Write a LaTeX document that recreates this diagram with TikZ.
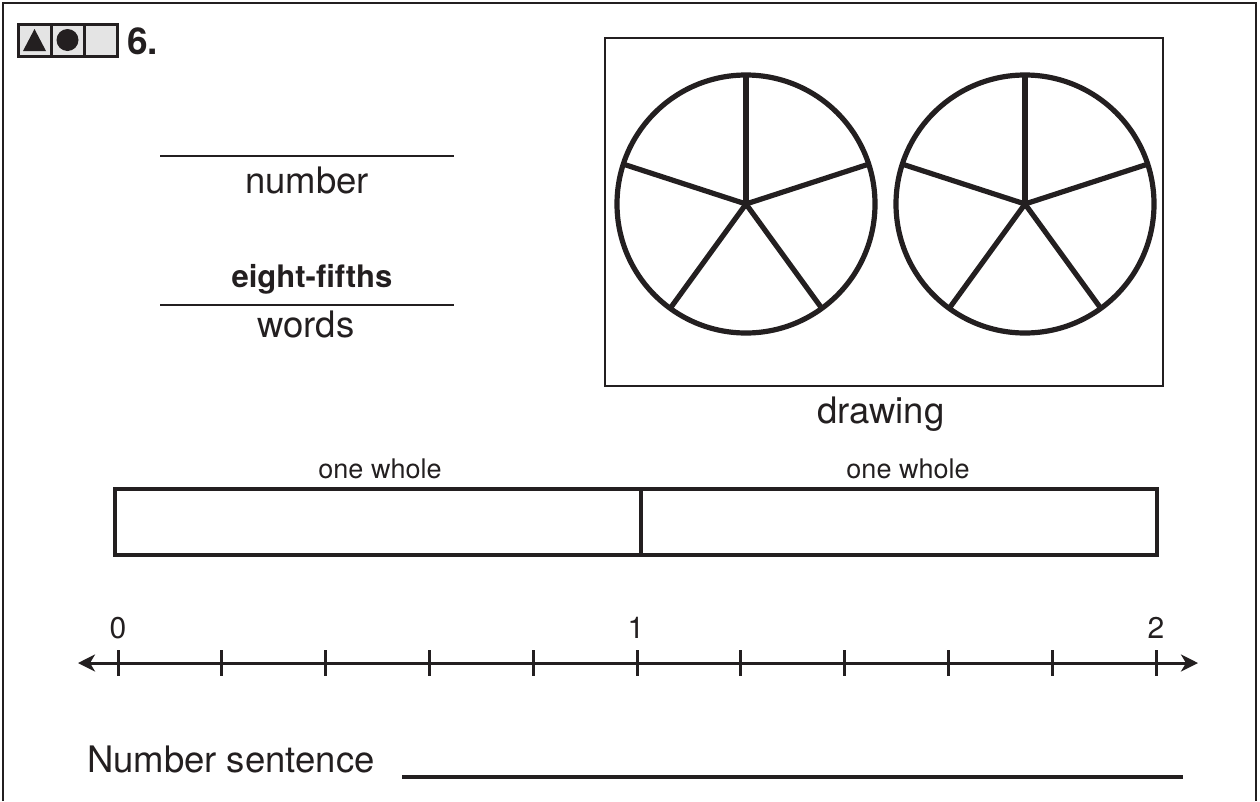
\documentclass[tikz,border=0pt]{standalone}
\usepackage{fontspec}
\setmainfont{TeX Gyre Heros}
\usetikzlibrary{arrows.meta}
\definecolor{ink}{RGB}{35,31,32}
\definecolor{cellgray}{RGB}{228,228,228}
\newcommand{\fs}[1]{\fontsize{#1}{#1}\selectfont}
\begin{document}
\begin{tikzpicture}[x=1pt,y=-1pt,
  every node/.style={inner sep=0pt,outer sep=0pt,text=ink},
  label/.style={anchor=base,font=\fs{36.5}},
  small/.style={anchor=base,font=\fs{27}},
  thinline/.style={draw=ink,line width=2.2pt},
  pieline/.style={draw=ink,line width=5.2pt},
  barline/.style={draw=ink,line width=4pt},
  axisline/.style={draw=ink,line width=3pt},
  tick/.style={draw=ink,line width=3pt},
  cell/.style={draw=ink,line width=3pt,fill=cellgray}]
\useasboundingbox (0,0) rectangle (1260,801);

% page frame (open at the bottom)
\draw[ink,line width=2.8pt] (3,801) -- (3,3) -- (1256,3) -- (1256,801);

% level icon and item number
\draw[cell] (18,24) rectangle (51,56);
\draw[cell] (51,24) rectangle (84,56);
\draw[cell] (84,24) rectangle (117,56);
\fill[ink] (23,51) -- (34.5,29) -- (46,51) -- cycle;
\fill[ink] (67.5,40) circle (11);
\node[anchor=base west,font=\bfseries\fs{37}] (num) at (127,54) {6.};

% answer blanks
\coordinate (nA) at (160,156); \coordinate (nB) at (454,156);
\draw[thinline] (nA) -- (nB);
\node[label] (numlbl) at (307,193) {number};
\node[small,font=\bfseries\fs{31}] (ans) at (312,287) {eight-fifths};
\coordinate (wA) at (160,305); \coordinate (wB) at (454,305);
\draw[thinline] (wA) -- (wB);
\node[label] (wordslbl) at (306,337) {words};

% drawing area with two circles cut into fifths
\draw[thinline] (605,38) rectangle (1163,386);
\foreach \cx/\nm in {746/pA,1025/pB}{
  \coordinate (\nm) at (\cx,204);
  \draw[pieline] (\nm) circle (129);
  \foreach \a in {90,18,162,234,306}
    \draw[pieline] (\nm) -- ++(-\a:129);
}
\node[label] (drawlbl) at (881,423) {drawing};

% fraction bar: two wholes
\node[small] (w1) at (380,478) {one whole};
\node[small] (w2) at (908,478) {one whole};
\draw[barline] (115,489) rectangle (1157,555);
\draw[barline] (641,489) -- (641,555);

% number line from 0 to 2 in fifths
\coordinate (L) at (78,663); \coordinate (R) at (1198,663);
\draw[axisline,{Stealth[length=17pt,width=17pt,inset=5pt]}-{Stealth[length=17pt,width=17pt,inset=5pt]}] (L) -- (R);
\foreach \i in {0,...,10}
  \draw[tick] ({118+103.8*\i},650) -- ({118+103.8*\i},676);
\node[small,font=\fs{30}] (t0) at (118,638) {0};
\node[small,font=\fs{30}] (t1) at (636,638) {1};
\node[small,font=\fs{30}] (t2) at (1156,638) {2};

% number sentence blank
\node[anchor=base west,font=\fs{36.5}] (ns) at (87,772) {Number sentence};
\coordinate (sA) at (402,777); \coordinate (sB) at (1183,777);
\draw[barline,line width=3.5pt] (sA) -- (sB);
\end{tikzpicture}
\end{document}
